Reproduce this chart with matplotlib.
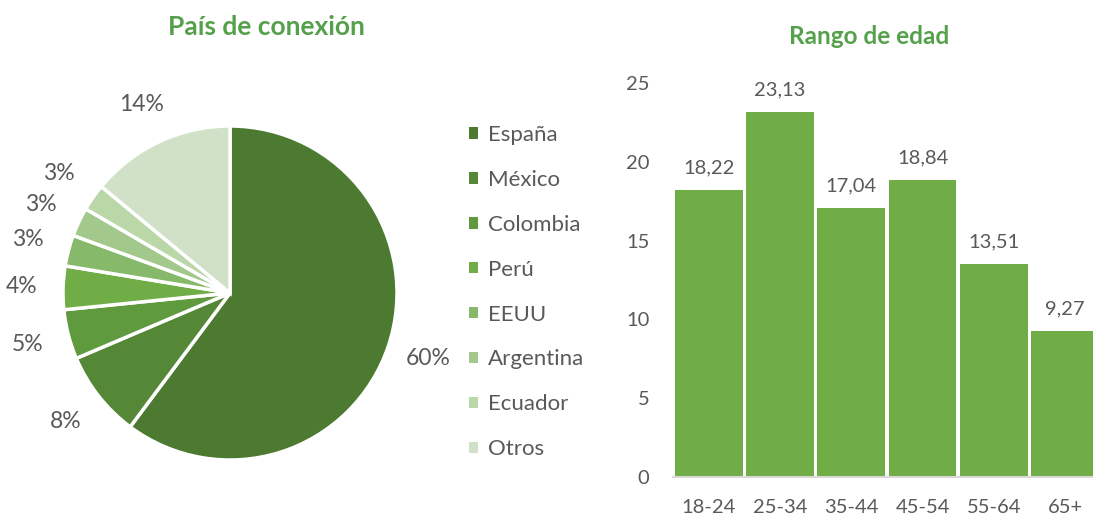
import matplotlib
matplotlib.use("Agg")
from matplotlib import pyplot as plt
from matplotlib.patches import Patch

plt.rcParams['font.family'] = ['Lato', 'DejaVu Sans']

# Pie data: connection country (share, %)
countries = ['España', 'México', 'Colombia', 'Perú', 'EEUU', 'Argentina', 'Ecuador', 'Otros']
shares = [60.2, 8.4, 4.8, 4.2, 3.0, 2.8, 2.6, 14.0]
pie_colors = ['#4C7A30', '#548837', '#5F9A3E', '#70AD47', '#86B96A', '#A2C98B', '#B9D7A7', '#D0E1C7']

# Bar data: age range
age_ranges = ['18-24', '25-34', '35-44', '45-54', '55-64', '65+']
age_values = [18.22, 23.13, 17.04, 18.84, 13.51, 9.27]

W, H = 1093, 518
TEXT = '#595959'
TITLE = '#55A04A'

fig = plt.figure(figsize=(W / 100, H / 100), dpi=100)

# ---- Pie chart ----
R = 167
cx, cy = 230, H - 293
half = 1.35
ax1 = fig.add_axes([(cx - half * R) / W, (cy - half * R) / H, 2 * half * R / W, 2 * half * R / H])
ax1.pie(shares, colors=pie_colors, startangle=90, counterclock=False,
        autopct='%.0f%%', pctdistance=1.25,
        wedgeprops=dict(edgecolor='white', linewidth=2.5),
        textprops=dict(color=TEXT, fontsize=16.5))
ax1.set_xlim(-half, half)
ax1.set_ylim(-half, half)
ax1.set_aspect('equal')
ax1.axis('off')

fig.text(266 / W, 1 - 27 / H, 'País de conexión', ha='center', va='center',
         fontsize=19, fontweight='bold', color=TITLE)

handles = [Patch(facecolor=c, edgecolor='none') for c in pie_colors]
fig.legend(handles, countries, loc='upper left', bbox_to_anchor=(469 / W, 1 - 125 / H),
           frameon=False, fontsize=16, labelcolor=TEXT,
           handlelength=0.42, handleheight=0.42, handletextpad=0.45,
           labelspacing=1.12, borderpad=0, borderaxespad=0)

# ---- Bar chart ----
x0, x1 = 673, 1093
y0, ytop = 477, 83
ax2 = fig.add_axes([x0 / W, (H - y0) / H, (x1 - x0) / W, (y0 - ytop) / H])
pos = list(range(len(age_ranges)))
bars = ax2.bar(pos, age_values, width=0.95, color='#70AD47')
ax2.set_xlim(-0.5, 5.39)
ax2.set_ylim(0, 25)
ax2.set_yticks(range(0, 26, 5))
ax2.set_xticks(pos)
ax2.set_xticklabels(age_ranges)
for s in ['top', 'right', 'left']:
    ax2.spines[s].set_visible(False)
ax2.spines['bottom'].set_color('#D9D9D9')
ax2.spines['bottom'].set_linewidth(1.5)
ax2.tick_params(axis='both', length=0, labelsize=14.5, labelcolor=TEXT)
ax2.tick_params(axis='y', pad=17)
ax2.tick_params(axis='x', pad=16)

for b, v in zip(bars, age_values):
    ax2.annotate(f'{v:.2f}'.replace('.', ','), (b.get_x() + b.get_width() / 2, v),
                 xytext=(0, 10), textcoords='offset points', ha='center', va='bottom',
                 fontsize=14.5, color=TEXT, annotation_clip=False)

fig.text(869 / W, 1 - 36 / H, 'Rango de edad', ha='center', va='center',
         fontsize=17.5, fontweight='bold', color=TITLE)

fig.savefig('out.png', dpi=100)
